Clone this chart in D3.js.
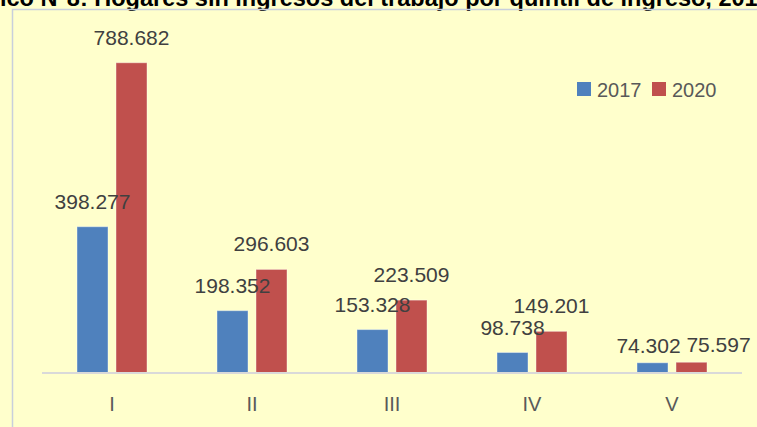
<!DOCTYPE html>
<head>
    <meta charset="utf-8" />
    <script src="https://d3js.org/d3.v7.min.js"></script>
    <style>
        body { margin: 0; background: #FFFFCC; }
        svg { display: block; font-family: "Liberation Sans", Arial, sans-serif; }
    </style>
</head>
<body>
<div id="chart"></div>
<script>
    // datos
    const quintiles = ["I", "II", "III", "IV", "V"];
    const years = ["2017", "2020"];
    const values2017 = [398.277, 198.352, 153.328, 98.738, 74.302];
    const values2020 = [788.682, 296.603, 223.509, 149.201, 75.597];
    const colors = ["#4F81BD", "#C0504D"];

    const width = 757, height = 427;
    const svg = d3.select("#chart").append("svg")
        .attr("width", width)
        .attr("height", height);

    svg.append("rect")
        .attr("width", width).attr("height", height)
        .attr("fill", "#FFFFCC");

    // titulo (cortado arriba como en la imagen)
    const title = svg.append("text")
        .attr("y", 6)
        .attr("font-size", 23.5)
        .attr("font-weight", "bold")
        .attr("fill", "#000")
        .text("Gráfico N°8: Hogares sin ingresos del trabajo por quintil de ingreso, 2017-2020");
    const prefix = svg.append("text").attr("font-size", 23.5).attr("font-weight", "bold").text("Gráf");
    title.attr("x", -prefix.node().getComputedTextLength());
    prefix.remove();

    // borde del area del grafico
    svg.append("rect")
        .attr("x", 12.5).attr("y", 9.5)
        .attr("width", 800).attr("height", 500)
        .attr("fill", "none")
        .attr("stroke", "#C8CFDC")
        .attr("stroke-width", 1.5);

    const rows = quintiles.map(function(q, i) {
        return { q: q, vals: [values2017[i], values2020[i]] };
    });

    const x0 = d3.scaleBand().domain(quintiles).range([42, 742]);
    const x1 = d3.scaleBand().domain(years).range([35, 105]).paddingInner(0.205);
    const y = d3.scaleLinear().domain([50, 800]).range([373, 58]);

    const groups = svg.selectAll("g.grp")
        .data(rows)
        .enter()
        .append("g")
        .attr("class", "grp")
        .attr("transform", function(d) { return "translate(" + x0(d.q) + ",0)"; });

    groups.selectAll("rect")
        .data(function(d) { return d.vals.map(function(v, j) { return { q: d.q, yr: years[j], v: v, j: j }; }); })
        .enter()
        .append("rect")
        .attr("x", function(d) { return x1(d.yr); })
        .attr("y", function(d) { return y(d.v); })
        .attr("width", x1.bandwidth())
        .attr("height", function(d) { return y(50) - y(d.v); })
        .attr("fill", function(d) { return colors[d.j]; })
        .attr("stroke", "#ffffff")
        .attr("stroke-opacity", 0.4)
        .attr("stroke-width", 1);

    // pequeños ajustes de etiquetas en V para que no se pisen
    const nudge = { "V": [[-4, 8], [27, 8]] };

    groups.selectAll("text.lbl")
        .data(function(d) { return d.vals.map(function(v, j) { return { q: d.q, yr: years[j], v: v, j: j }; }); })
        .enter()
        .append("text")
        .attr("class", "lbl")
        .attr("x", function(d) {
            const n = nudge[d.q] ? nudge[d.q][d.j][0] : 0;
            return x1(d.yr) + x1.bandwidth() / 2 + n;
        })
        .attr("y", function(d) {
            const n = nudge[d.q] ? nudge[d.q][d.j][1] : 0;
            return y(d.v) - 18 + n;
        })
        .attr("text-anchor", "middle")
        .attr("font-size", 21)
        .attr("fill", "#404040")
        .text(function(d) { return d3.format(".3f")(d.v); });

    // eje x
    svg.append("line")
        .attr("x1", 42).attr("x2", 742)
        .attr("y1", 373).attr("y2", 373)
        .attr("stroke", "#D9D9D9")
        .attr("stroke-width", 2);

    svg.selectAll("text.cat")
        .data(quintiles)
        .enter()
        .append("text")
        .attr("class", "cat")
        .attr("x", function(d) { return x0(d) + x0.bandwidth() / 2; })
        .attr("y", 411)
        .attr("text-anchor", "middle")
        .attr("font-size", 20)
        .attr("fill", "#595959")
        .text(function(d) { return d; });

    // leyenda
    const legend = svg.selectAll("g.leg")
        .data(years)
        .enter()
        .append("g")
        .attr("class", "leg")
        .attr("transform", function(d, i) { return "translate(" + (577 + i * 75) + ",82)"; });
    legend.append("rect")
        .attr("width", 14).attr("height", 14)
        .attr("fill", function(d, i) { return colors[i]; });
    legend.append("text")
        .attr("x", 20).attr("y", 14.5)
        .attr("font-size", 20)
        .attr("fill", "#595959")
        .text(function(d) { return d; });
</script>
</body>
